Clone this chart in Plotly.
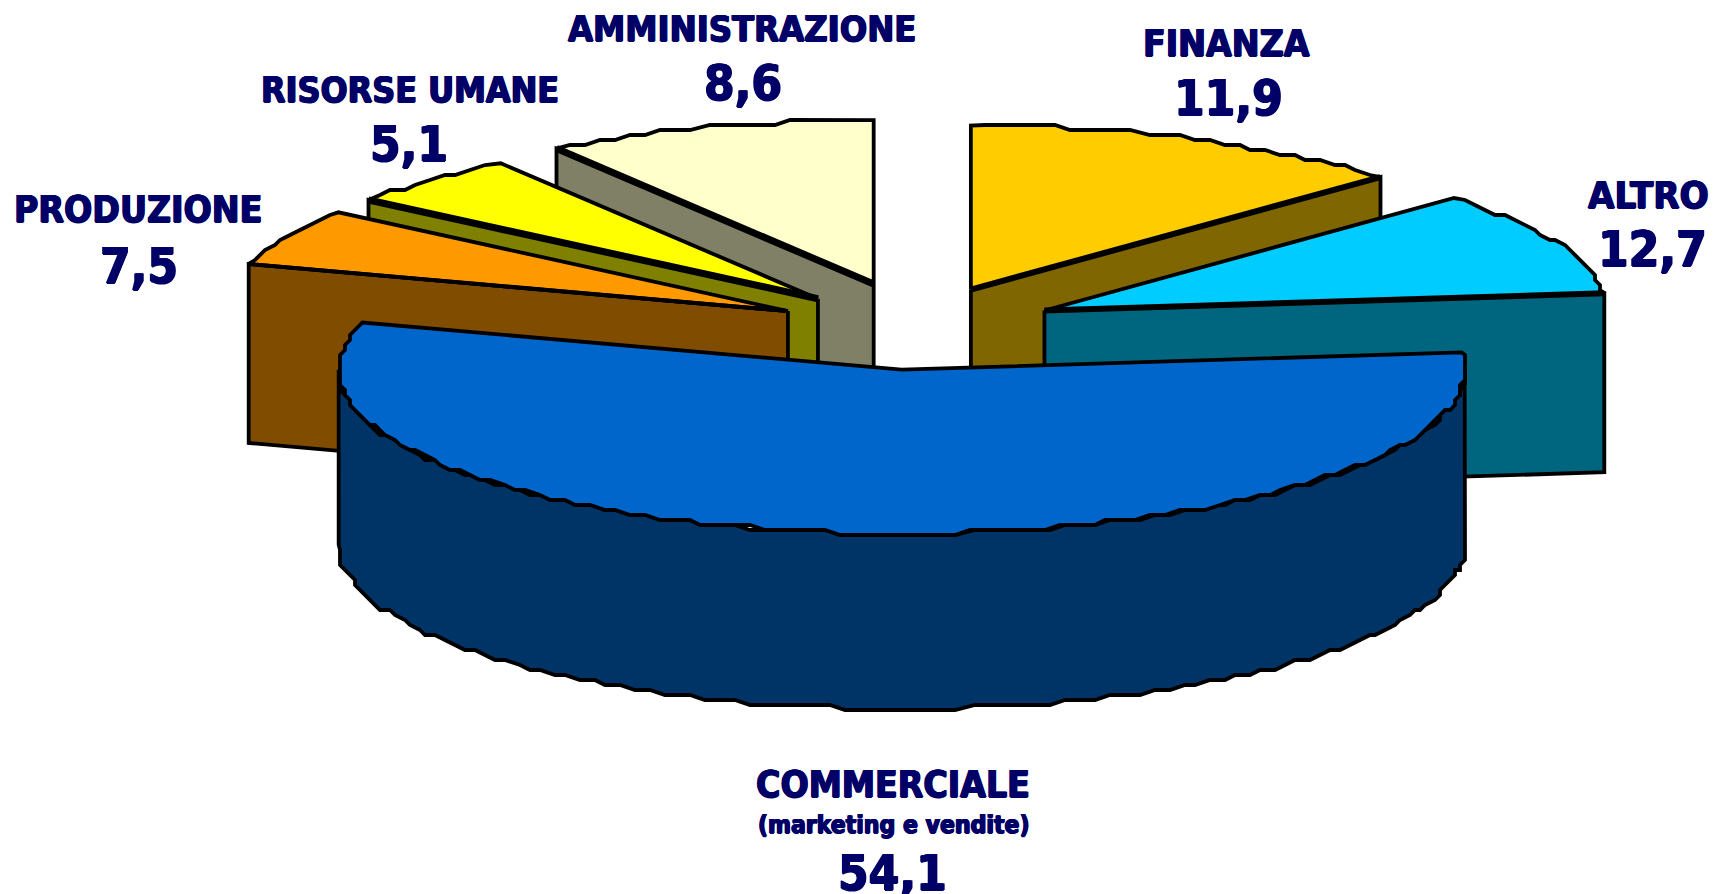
import numpy as np
import plotly.graph_objects as go

# ---- data ----
categories = ["FINANZA", "ALTRO", "COMMERCIALE", "PRODUZIONE", "RISORSE UMANE", "AMMINISTRAZIONE"]
values = [11.9, 12.7, 54.1, 7.5, 5.1, 8.6]
value_labels = ["11,9", "12,7", "54,1", "7,5", "5,1", "8,6"]

# ---- styling / projection ----
top_colors = ["#FFCC00", "#00CCFF", "#0066CC", "#FF9900", "#FFFF00", "#FFFFCC"]
wall_colors = ["#806600", "#006680", "#003366", "#804C00", "#808000", "#808066"]
CX, CY = 914, 328      # pie centre in the page
RX, RY = 563, 164      # ellipse radii of the tilted disc
DEPTH = 179
FRONT_DEPTH = 175
EXPLODE = 0.255
edge_view_shift = [0, 3.8, -4.7, 3.1, -3.6, -3.3, 0]  # view distortion of the slice edges, degrees
slice_nudge = [(0, 0), (0, 0), (1, 0), (2, 2), (3, 1), (2, -4)]
seam_width = [6, 6, 4, 4, 7, 7]
LINE = 3.8
NAVY = "#000066"

fractions = np.cumsum([0] + values) / sum(values)
edges = fractions * 360 + np.array(edge_view_shift)


def rim(t_deg, cx, cy):
    t = np.radians(t_deg)
    return cx + RX * np.sin(t), cy - RY * np.cos(t)


def bumpy_arc(t0, t1, cx, cy):
    """Rim between two angles, with the coarse stepping of the source drawing."""
    n = max(2, int(abs(t1 - t0) / 1.6))
    ts = np.linspace(t0, t1, n)
    x, y = rim(ts, cx, cy)
    qx, qy = np.round(x / 5) * 5, np.round(y / 5) * 5
    qx[0], qy[0], qx[-1], qy[-1] = x[0], y[0], x[-1], y[-1]
    return qx, qy


def poly(fig, xs, ys, fill, width=LINE):
    fig.add_trace(go.Scatter(
        x=list(xs), y=list(ys), mode="lines", fill="toself", fillcolor=fill,
        line=dict(color="black", width=width), hoverinfo="skip", showlegend=False))


def seam(fig, xs, ys, width):
    fig.add_trace(go.Scatter(x=list(xs), y=list(ys), mode="lines",
                             line=dict(color="black", width=width),
                             hoverinfo="skip", showlegend=False))


fig = go.Figure()
draw_order = [5, 4, 3, 0, 1, 2]
for i in draw_order:
    t0, t1 = edges[i], edges[i + 1]
    mid = (t0 + t1) / 2
    ax, ay = rim(mid, 0, 0)
    ax, ay = CX + EXPLODE * ax + slice_nudge[i][0], CY + EXPLODE * ay + slice_nudge[i][1]
    if i == 2:  # outer cylinder wall in front
        ux, uy = bumpy_arc(270, 90, ax, ay)
        lx, ly = bumpy_arc(90, 270, ax, ay + FRONT_DEPTH)
        wx = np.r_[ux, lx]
        wy = np.r_[uy, ly]
        poly(fig, np.r_[wx, wx[0]], np.r_[wy, wy[0]], wall_colors[i])
    # cut face that looks towards the viewer
    wall_t = t1 if i < 2 else t0
    ex, ey = rim(wall_t, ax, ay)
    if i != 2:
        poly(fig, [ax, ex, ex, ax, ax], [ay, ey, ey + DEPTH, ay + DEPTH, ay], wall_colors[i])
    # top face
    arc_x, arc_y = bumpy_arc(t0, t1, ax, ay)
    poly(fig, np.r_[ax, arc_x, ax], np.r_[ay, arc_y, ay], top_colors[i])
    if i != 2:
        seam(fig, [ax, ex], [ay, ey], seam_width[i])

# ---- labels ----
name_pos = {"FINANZA": (1226, 43, 37), "ALTRO": (1648, 195, 38), "COMMERCIALE": (893, 784, 37),
            "PRODUZIONE": (138, 209, 37), "RISORSE UMANE": (410, 89, 35.5), "AMMINISTRAZIONE": (742, 28, 36)}
value_pos = {"FINANZA": (1228, 98), "ALTRO": (1652, 249), "COMMERCIALE": (892, 873),
             "PRODUZIONE": (139, 266), "RISORSE UMANE": (409, 144), "AMMINISTRAZIONE": (743, 83)}
FONT = "DejaVu Sans Condensed"
HEAVY = "0.8px 0 0 #000066,-0.8px 0 0 #000066,0 0.5px 0 #000066,0 -0.5px 0 #000066"
for name, val in zip(categories, value_labels):
    x, y, s = name_pos[name]
    fig.add_annotation(x=x, y=y, text=f"<b>{name}</b>", showarrow=False,
                       font=dict(family=FONT, size=s, color=NAVY, shadow=HEAVY))
    x, y = value_pos[name]
    fig.add_annotation(x=x, y=y, text=f"<b>{val}</b>", showarrow=False,
                       font=dict(family=FONT, size=49, color=NAVY, shadow=HEAVY))
fig.add_annotation(x=894, y=824, text="<b>(marketing e vendite)</b>", showarrow=False,
                   font=dict(family=FONT, size=24.5, color=NAVY, shadow=HEAVY))

fig.update_layout(
    width=1715, height=894, margin=dict(l=0, r=0, t=0, b=0),
    paper_bgcolor="white", plot_bgcolor="white", showlegend=False,
    xaxis=dict(range=[0, 1715], visible=False, fixedrange=True),
    yaxis=dict(range=[894, 0], visible=False, fixedrange=True),
)
fig.write_html("out.html", config={"displayModeBar": False},
               post_script="document.body.style.margin='0';document.body.style.overflow='hidden';")
